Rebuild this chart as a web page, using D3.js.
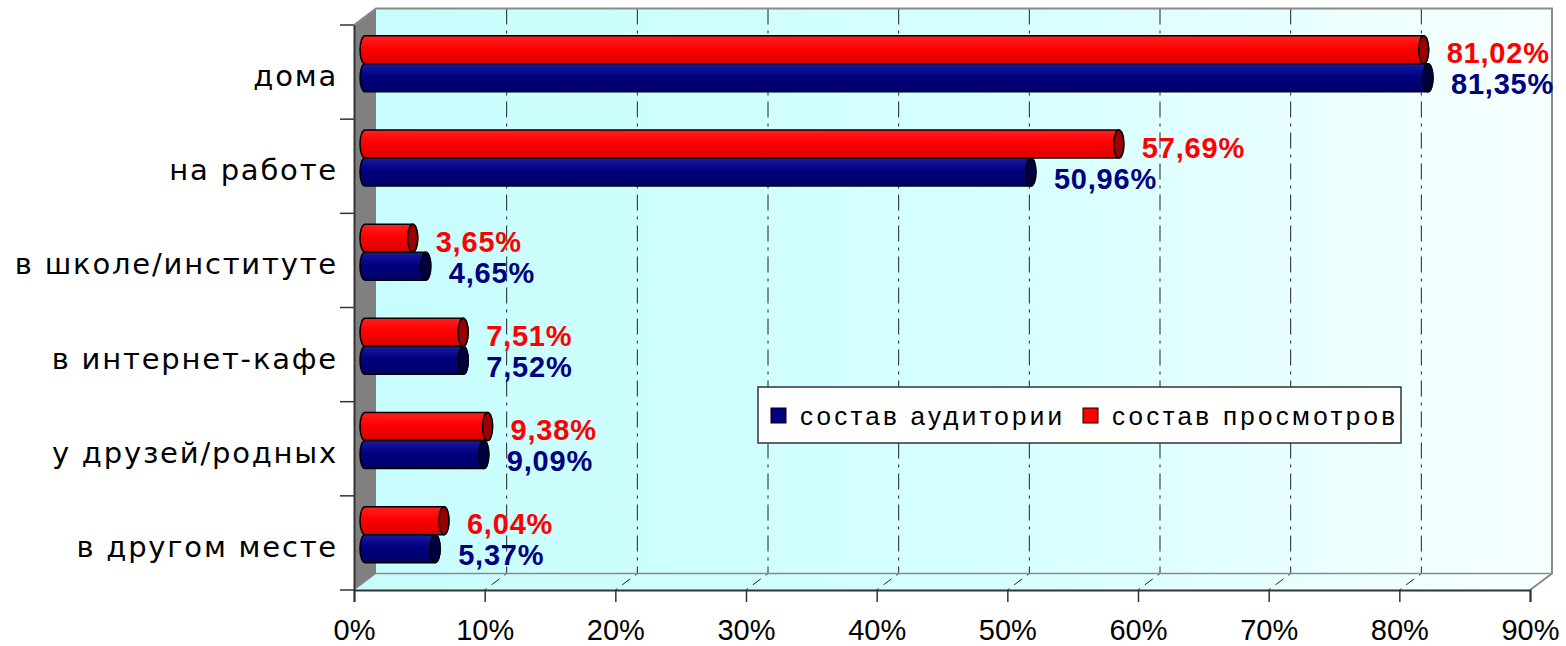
<!DOCTYPE html>
<html>
<head>
<meta charset="utf-8">
<script src="https://cdn.jsdelivr.net/npm/d3@7"></script>
<style>
  body { margin: 0; background: #fff; }
  svg { display: block; }
</style>
</head>
<body>
<svg id="chart"></svg>
<script>
// data
const categories = ['дома', 'на работе', 'в школе/институте', 'в интернет-кафе', 'у друзей/родных', 'в другом месте'];
const audience = [81.35, 50.96, 4.65, 7.52, 9.09, 5.37];   // состав аудитории (blue)
const views = [81.02, 57.69, 3.65, 7.51, 9.38, 6.04];      // состав просмотров (red)
const xTicks = [0, 10, 20, 30, 40, 50, 60, 70, 80, 90];
const seriesNames = ['состав аудитории', 'состав просмотров'];

const width = 1566, height = 646;
const svg = d3.select('#chart').attr('width', width).attr('height', height);

// plot frame (front plane) and 3d depth offset
const pLeft = 354, pRight = 1530, pTop = 25, pBottom = 590;
const dx = 22, dy = -16.5;

const x = d3.scaleLinear().domain([0, 90]).range([pLeft, pRight]);
const y = d3.scaleBand().domain(categories).range([pTop, pBottom]);

const fmt = v => d3.format('.2f')(v).replace('.', ',') + '%';

const defs = svg.append('defs');
const wallGrad = defs.append('linearGradient').attr('id', 'wall').attr('x1', 0).attr('x2', 1).attr('y1', 0).attr('y2', 0);
wallGrad.append('stop').attr('offset', '0%').attr('stop-color', '#c8fdfd');
wallGrad.append('stop').attr('offset', '50%').attr('stop-color', '#d4ffff');
wallGrad.append('stop').attr('offset', '100%').attr('stop-color', '#f8ffff');

function cylGrad(id, c1, c2, c3) {
  const g = defs.append('linearGradient').attr('id', id).attr('x1', 0).attr('x2', 0).attr('y1', 0).attr('y2', 1);
  g.append('stop').attr('offset', '0%').attr('stop-color', c1);
  g.append('stop').attr('offset', '45%').attr('stop-color', c2);
  g.append('stop').attr('offset', '100%').attr('stop-color', c3);
}
cylGrad('redCyl', '#ff2020', '#ff0000', '#d80000');
cylGrad('blueCyl', '#1a1aa0', '#000080', '#000066');

// back wall
svg.append('rect')
  .attr('x', pLeft + dx).attr('y', pTop + dy)
  .attr('width', pRight - pLeft).attr('height', pBottom - pTop)
  .attr('fill', 'url(#wall)');

// floor
svg.append('path')
  .attr('d', `M${pLeft},${pBottom} L${pLeft + dx},${pBottom + dy} L${pRight + dx},${pBottom + dy} L${pRight},${pBottom} Z`)
  .attr('fill', 'url(#wall)');

// side wall
svg.append('path')
  .attr('d', `M${pLeft},${pTop} L${pLeft + dx},${pTop + dy} L${pLeft + dx},${pBottom + dy} L${pLeft},${pBottom} Z`)
  .attr('fill', '#808080');

// gridlines on back wall and floor
const inner = xTicks.filter(t => t > 0 && t < 90);
const grid = svg.append('g').attr('stroke', '#222').attr('stroke-width', 1).attr('stroke-dasharray', '16,6,3,6');
grid.selectAll('line.wall')
  .data(inner)
  .enter().append('line')
  .attr('class', 'wall')
  .attr('x1', d => x(d) + dx).attr('x2', d => x(d) + dx)
  .attr('y1', pTop + dy).attr('y2', pBottom + dy);
grid.selectAll('line.floor')
  .data(inner)
  .enter().append('line')
  .attr('class', 'floor')
  .attr('x1', d => x(d) + dx).attr('x2', d => x(d))
  .attr('y1', pBottom + dy).attr('y2', pBottom)
  .attr('stroke-dasharray', '3,6,10,6');

// frame edges
svg.append('path')
  .attr('d', `M${pLeft},${pTop} L${pLeft + dx},${pTop + dy} L${pRight + dx},${pTop + dy} L${pRight + dx},${pBottom + dy} L${pRight},${pBottom}`)
  .attr('fill', 'none').attr('stroke', '#8a8a8a').attr('stroke-width', 2);
svg.append('line')
  .attr('x1', pLeft + dx).attr('x2', pRight + dx)
  .attr('y1', pBottom + dy).attr('y2', pBottom + dy)
  .attr('stroke', '#8a8a8a').attr('stroke-width', 1.5);
svg.append('line')
  .attr('x1', pLeft).attr('x2', pLeft + dx)
  .attr('y1', pBottom).attr('y2', pBottom + dy)
  .attr('stroke', '#8a8a8a').attr('stroke-width', 1);

// axes
const xAxis = svg.append('g')
  .attr('transform', `translate(0,${pBottom})`)
  .call(d3.axisBottom(x).tickValues(xTicks).tickSize(12).tickFormat(d => d + '%'));
xAxis.select('.domain').attr('stroke', '#333').attr('stroke-width', 2);
xAxis.selectAll('.tick line').attr('stroke', '#333').attr('stroke-width', 1.5);
xAxis.selectAll('.tick text')
  .attr('y', 50).attr('dy', 0)
  .attr('font-family', '"Liberation Sans", Arial, sans-serif')
  .attr('font-size', 29).attr('fill', '#000');

const yAxis = svg.append('g')
  .attr('transform', `translate(${pLeft},0)`)
  .call(d3.axisLeft(y).tickSize(0).tickFormat(''));
yAxis.select('.domain').attr('stroke', '#333').attr('stroke-width', 2);
yAxis.selectAll('line.cat')
  .data(d3.range(categories.length + 1))
  .enter().append('line')
  .attr('class', 'cat')
  .attr('x1', -14).attr('x2', 0)
  .attr('y1', i => pTop + i * y.step()).attr('y2', i => pTop + i * y.step())
  .attr('stroke', '#333').attr('stroke-width', 1.5);

svg.append('g').selectAll('text')
  .data(categories)
  .enter().append('text')
  .attr('x', 338)
  .attr('y', d => y(d) + y.bandwidth() / 2 + 14)
  .attr('text-anchor', 'end')
  .attr('font-family', '"DejaVu Sans", Verdana, sans-serif')
  .attr('font-size', 29)
  .attr('letter-spacing', 1.8)
  .attr('fill', '#000')
  .text(d => d);

// bars as cylinders at mid depth
const barH = 28;
const rx = 5;
const series = [
  { name: seriesNames[1], values: views, fill: 'url(#redCyl)', cap: '#9a0000', label: '#ff0000', off: -1, gap: 18, ly: 6 },
  { name: seriesNames[0], values: audience, fill: 'url(#blueCyl)', cap: '#000040', label: '#000080', off: 0, gap: 18, ly: 9 }
];

const bars = svg.append('g');
categories.forEach((c, i) => {
  const cy = y(c) + y.bandwidth() / 2 + dy / 2;
  series.forEach(s => {
    const v = s.values[i];
    const x0 = x(0) + dx / 2;
    const x1 = x(v) + dx / 2;
    const t = cy + s.off * barH;
    const b = t + barH;
    const ry = barH / 2;
    bars.append('path')
      .attr('d', `M${x0},${t} L${x1},${t} A${rx},${ry} 0 0 1 ${x1},${b} L${x0},${b} A${rx},${ry} 0 0 1 ${x0},${t} Z`)
      .attr('fill', s.fill)
      .attr('stroke', '#000').attr('stroke-width', 1.5);
    bars.append('ellipse')
      .attr('cx', x1).attr('cy', t + ry)
      .attr('rx', rx).attr('ry', ry)
      .attr('fill', s.cap)
      .attr('stroke', '#000').attr('stroke-width', 1.5);
    bars.append('text')
      .attr('x', x1 + rx + s.gap)
      .attr('y', t + ry + s.ly)
      .attr('dominant-baseline', 'middle')
      .attr('font-family', '"Liberation Sans", Arial, sans-serif')
      .attr('font-weight', 'bold')
      .attr('font-size', 29)
      .attr('letter-spacing', 0.8)
      .attr('fill', s.label)
      .text(fmt(v));
  });
});

// legend
const legend = svg.append('g').attr('transform', 'translate(758,387)');
legend.append('rect')
  .attr('width', 643).attr('height', 56)
  .attr('fill', '#fff').attr('stroke', '#333').attr('stroke-width', 1.5);
const legendItems = [
  { name: seriesNames[0], color: '#000080', x: 13, len: 262 },
  { name: seriesNames[1], color: '#ff0000', x: 325, len: 283 }
];
legendItems.forEach(it => {
  legend.append('rect')
    .attr('x', it.x).attr('y', 21).attr('width', 15).attr('height', 15)
    .attr('fill', it.color).attr('stroke', '#000').attr('stroke-width', 1);
  legend.append('text')
    .attr('x', it.x + 29).attr('y', 38)
    .attr('font-family', '"Liberation Sans", Arial, sans-serif')
    .attr('font-size', 26)
    .attr('textLength', it.len)
    .attr('lengthAdjust', 'spacing')
    .attr('fill', '#000')
    .text(it.name);
});
</script>
</body>
</html>
